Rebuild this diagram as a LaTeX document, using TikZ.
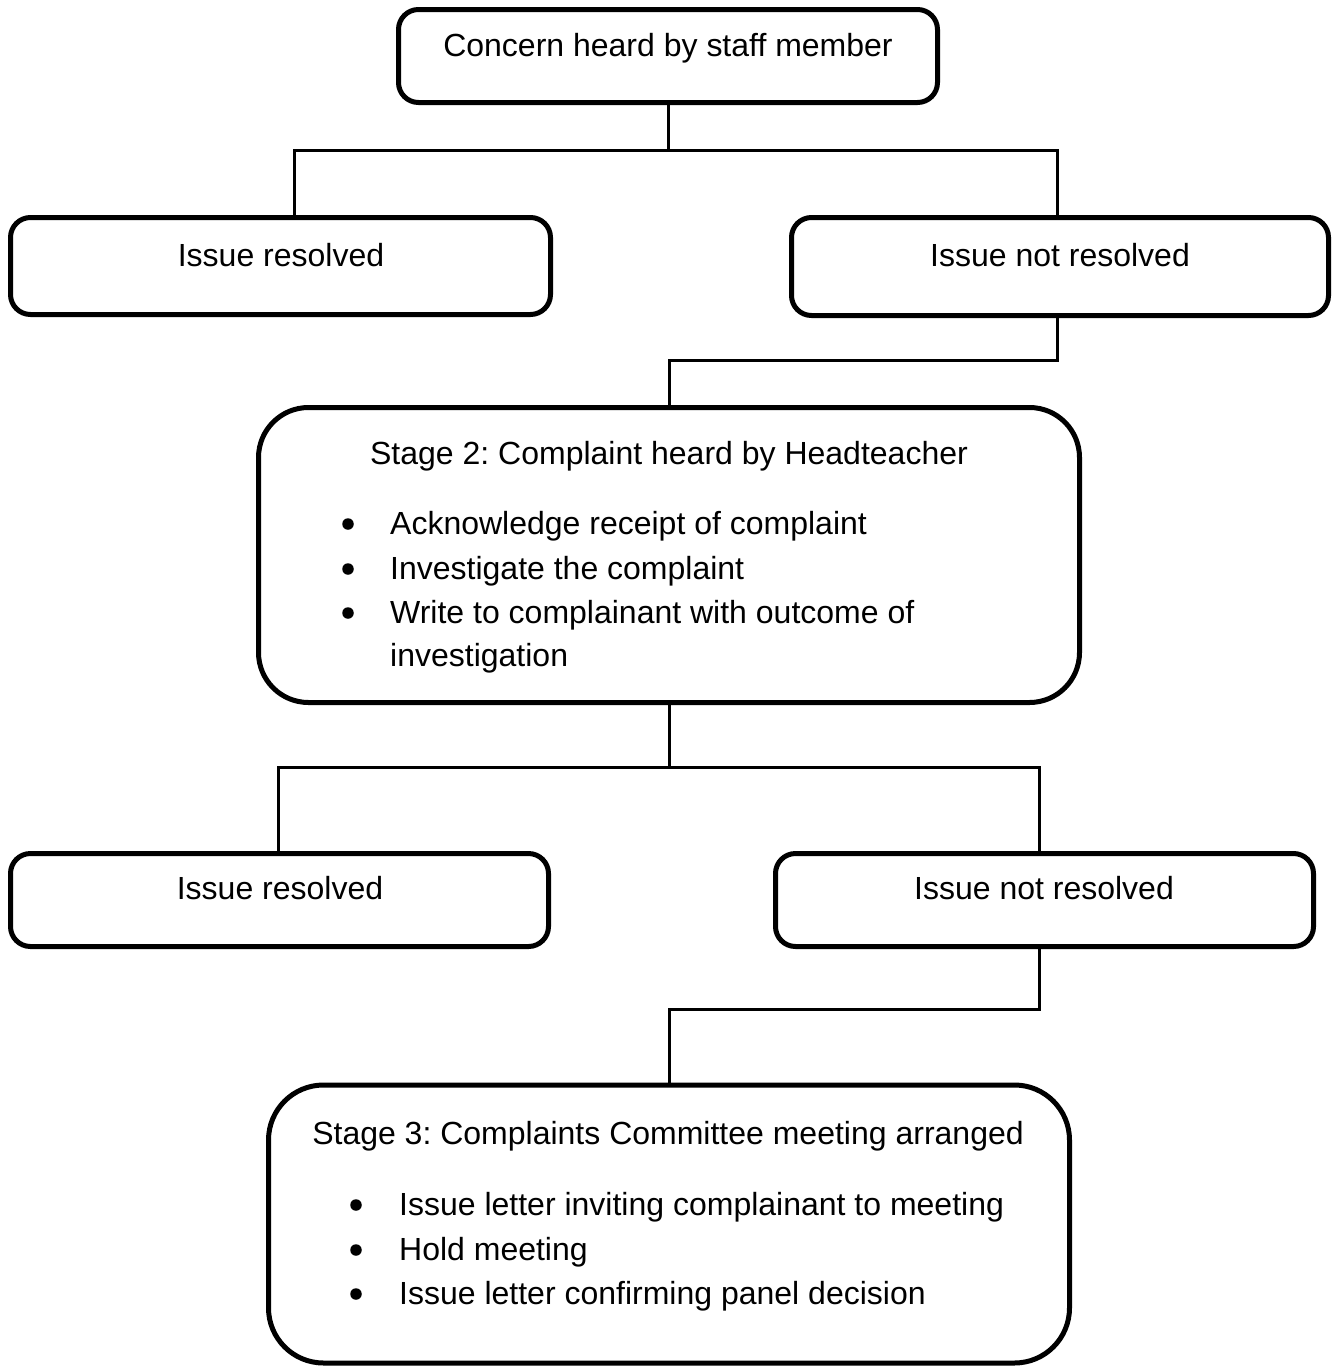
\documentclass[tikz,border=0pt]{standalone}
\usepackage{fontspec}
\setmainfont{Liberation Sans}
\frenchspacing
\begin{document}
\begin{tikzpicture}[x=1pt,y=-1pt,
  box/.style={draw, line width=5pt, inner sep=0pt, outer sep=0pt},
  conn/.style={draw, line width=3pt},
  txt/.style={inner sep=0pt, anchor=base, font=\fontsize{32pt}{38pt}\selectfont},
  ltxt/.style={txt, anchor=base west},
  bul/.style={circle, fill, inner sep=0pt, minimum size=11.5pt}
]
\useasboundingbox (0,0) rectangle (1335,1366);
% boxes
\node[box, minimum width=539pt, minimum height=93pt, rounded corners=20pt] (top) at (668,56) {};
\node[box, minimum width=540pt, minimum height=97pt, rounded corners=20pt] (left1) at (280.5,266) {};
\node[box, minimum width=537pt, minimum height=98pt, rounded corners=20pt] (right1) at (1060,266.5) {};
\node[box, minimum width=821pt, minimum height=295pt, rounded corners=50pt] (stage2) at (669,555) {};
\node[box, minimum width=538pt, minimum height=93pt, rounded corners=20pt] (left2) at (279.5,900) {};
\node[box, minimum width=538pt, minimum height=93pt, rounded corners=20pt] (right2) at (1044.5,900) {};
\node[box, minimum width=801pt, minimum height=278pt, rounded corners=55pt] (stage3) at (669,1224) {};
% texts
\node[txt] (ttop) at (668,56) {Concern heard by staff member};
\node[txt] (tl1) at (281,266) {Issue resolved};
\node[txt] (tr1) at (1060,266) {Issue not resolved};
\node[txt] (ts2) at (669,464) {Stage 2: Complaint heard by Headteacher};
\node[bul] (b21) at (348,524) {};
\node[ltxt] (s21) at (390,534) {Acknowledge receipt of complaint};
\node[bul] (b22) at (348,569) {};
\node[ltxt] (s22) at (390,579) {Investigate the complaint};
\node[bul] (b23) at (348,613) {};
\node[ltxt] (s23) at (390,623) {Write to complainant with outcome of};
\node[ltxt] (s24) at (390,666) {investigation};
\node[txt] (tl2) at (280,899) {Issue resolved};
\node[txt] (tr2) at (1044,899) {Issue not resolved};
\node[txt] (ts3) at (668,1144) {Stage 3: Complaints Committee meeting arranged};
\node[bul] (b31) at (356,1205) {};
\node[ltxt] (s31) at (399,1215) {Issue letter inviting complainant to meeting};
\node[bul] (b32) at (356,1250) {};
\node[ltxt] (s32) at (399,1260) {Hold meeting};
\node[bul] (b33) at (356,1294) {};
\node[ltxt] (s33) at (399,1304) {Issue letter confirming panel decision};
% connectors
\draw[conn] (top.south) -- ++(0,48) coordinate (j1);
\draw[conn] (j1) -| ([xshift=13.5pt]left1.north);
\draw[conn] (j1) -| ([xshift=-3pt]right1.north);
\draw[conn] ([xshift=-3pt]right1.south) -- ++(0,45) -| (stage2.north);
\draw[conn] (stage2.south) -- ++(0,65) coordinate (j2);
\draw[conn] (j2) -| ([xshift=-1.5pt]left2.north);
\draw[conn] (j2) -| ([xshift=-5pt]right2.north);
\draw[conn] ([xshift=-5pt]right2.south) -- ++(0,63) -| (stage3.north);
\end{tikzpicture}
\end{document}
